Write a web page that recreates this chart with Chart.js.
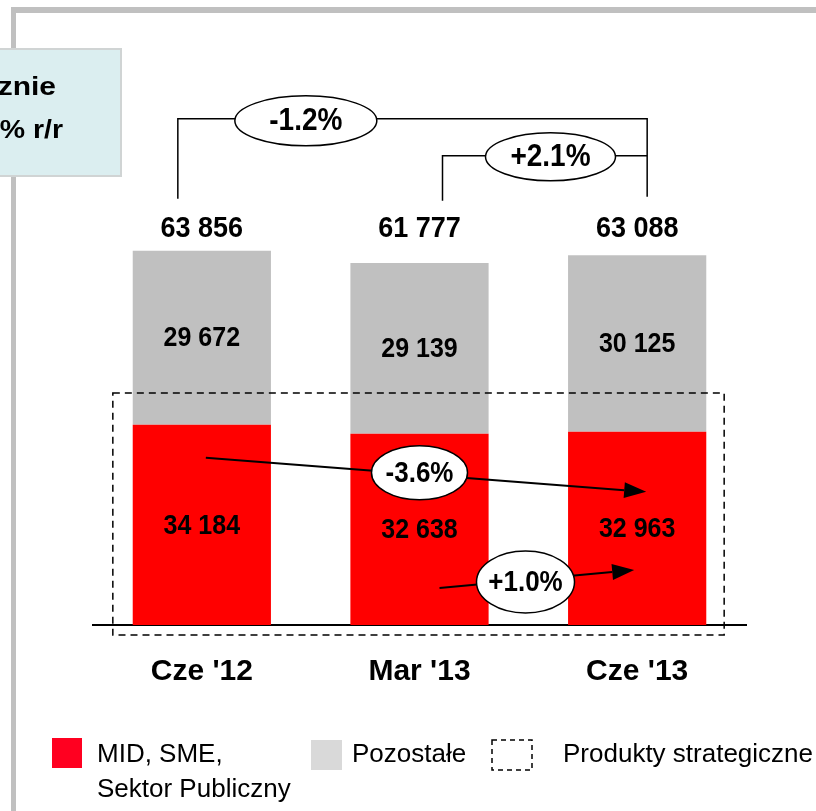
<!DOCTYPE html>
<html lang="pl">
<head>
<meta charset="utf-8">
<title>Produkty strategiczne</title>
<script src="https://cdn.jsdelivr.net/npm/chart.js@4.4.1/dist/chart.umd.min.js"></script>
<style>
  html, body { margin: 0; padding: 0; background: #fff; }
  #wrap { width: 816px; height: 811px; }
</style>
</head>
<body>
<div id="wrap"><canvas id="chart" width="816" height="811"></canvas></div>
<script>
// ---- dane z wykresu ----
const categories = ["Cze '12", "Mar '13", "Cze '13"];
const midSmeValues = [34184, 32638, 32963];
const otherValues = [29672, 29139, 30125];
const bracketLabels = ["-1.2%", "+2.1%"];   // zmiana sumy
const arrowLabels = ["-3.6%", "+1.0%"];     // zmiana MID/SME
const legendLabels = [["MID, SME,", "Sektor Publiczny"], ["Pozostałe"], ["Produkty strategiczne"]];
const boxLines = ["Łącznie", "-4% r/r"];

const RED = "#ff0000";
const GRAY = "#c0c0c0";
const FONT = "'Liberation Sans', Arial, sans-serif";

const totals = midSmeValues.map((v, i) => v + otherValues[i]);
const fmt = (n) => String(n).replace(/\B(?=(\d{3})+(?!\d))/g, " ");

// tekst z lekkim rozciągnięciem (jak na slajdzie)
function scaledText(ctx, text, x, y, sx, sy) {
  ctx.save();
  ctx.translate(x, y);
  ctx.scale(sx, sy);
  ctx.fillText(text, 0, 0);
  ctx.restore();
}

function ellipseLabel(ctx, cx, cy, rx, ry, text, size) {
  ctx.save();
  ctx.beginPath();
  ctx.ellipse(cx, cy, rx, ry, 0, 0, Math.PI * 2);
  ctx.fillStyle = "#fff";
  ctx.fill();
  ctx.lineWidth = 1.5;
  ctx.strokeStyle = "#000";
  ctx.stroke();
  ctx.fillStyle = "#000";
  ctx.font = "bold " + size + "px " + FONT;
  ctx.textAlign = "center";
  ctx.textBaseline = "middle";
  scaledText(ctx, text, cx, cy + 1, 1, 1.12);
  ctx.restore();
}

function arrow(ctx, x1, y1, x2, y2) {
  const a = Math.atan2(y2 - y1, x2 - x1);
  const len = 22, half = 8;
  ctx.save();
  ctx.strokeStyle = "#000";
  ctx.fillStyle = "#000";
  ctx.lineWidth = 2;
  ctx.beginPath();
  ctx.moveTo(x1, y1);
  ctx.lineTo(x2 - len * Math.cos(a), y2 - len * Math.sin(a));
  ctx.stroke();
  ctx.beginPath();
  ctx.moveTo(x2, y2);
  ctx.lineTo(x2 - len * Math.cos(a) + half * Math.sin(a), y2 - len * Math.sin(a) - half * Math.cos(a));
  ctx.lineTo(x2 - len * Math.cos(a) - half * Math.sin(a), y2 - len * Math.sin(a) + half * Math.cos(a));
  ctx.closePath();
  ctx.fill();
  ctx.restore();
}

function polyline(ctx, pts) {
  ctx.beginPath();
  ctx.moveTo(pts[0][0], pts[0][1]);
  pts.slice(1).forEach((p) => ctx.lineTo(p[0], p[1]));
  ctx.stroke();
}

const slideDecor = {
  id: "slideDecor",
  beforeDraw(chart) {
    const ctx = chart.ctx;
    ctx.save();
    // ramka slajdu
    ctx.fillStyle = GRAY;
    ctx.fillRect(11, 7, 805, 6);
    ctx.fillRect(11, 7, 5, 804);
    // niebieskie pole
    ctx.fillStyle = "#dbeef0";
    ctx.fillRect(0, 48, 122, 129);
    ctx.strokeStyle = "#d0d4d4";
    ctx.lineWidth = 2;
    ctx.strokeRect(-2, 49, 123, 127);
    ctx.fillStyle = "#000";
    ctx.font = "bold 25px " + FONT;
    ctx.textAlign = "right";
    ctx.textBaseline = "alphabetic";
    scaledText(ctx, boxLines[0], 56, 95, 1.2, 1);
    scaledText(ctx, boxLines[1], 63, 138, 1.14, 1);
    ctx.restore();
  },
  afterDatasetsDraw(chart) {
    const ctx = chart.ctx;
    const x = chart.scales.x, y = chart.scales.y;
    const cx = categories.map((_, i) => x.getPixelForValue(i));
    const base = y.getPixelForValue(0);
    const maxTop = y.getPixelForValue(Math.max(...totals));

    ctx.save();
    ctx.fillStyle = "#000";
    ctx.textAlign = "center";
    ctx.textBaseline = "middle";

    // etykiety segmentów
    ctx.font = "bold 25px " + FONT;
    chart.data.datasets.forEach((ds, di) => {
      chart.getDatasetMeta(di).data.forEach((bar, i) => {
        const p = bar.getProps(["x", "y", "base"], true);
        scaledText(ctx, fmt(ds.data[i]), p.x, (p.y + p.base) / 2 + 1, 1, 1.12);
      });
    });

    // sumy nad słupkami
    ctx.font = "bold 27px " + FONT;
    totals.forEach((t, i) => scaledText(ctx, fmt(t), cx[i], maxTop - 22, 1, 1.12));

    // obszar "Produkty strategiczne"
    ctx.strokeStyle = "#000";
    ctx.lineWidth = 1.5;
    ctx.setLineDash([7, 5]);
    ctx.strokeRect(cx[0] - 89, base - 232, (cx[2] + 87) - (cx[0] - 89), 242);
    ctx.setLineDash([]);

    // klamry nad słupkami
    const tY = maxTop - 132;
    const y2 = tY + 37;
    ctx.lineWidth = 1.5;
    polyline(ctx, [[cx[0] - 24, maxTop - 52], [cx[0] - 24, tY], [cx[2] + 10, tY], [cx[2] + 10, maxTop - 54]]);
    polyline(ctx, [[cx[1] + 23, maxTop - 50], [cx[1] + 23, y2], [cx[2] + 10, y2]]);
    ellipseLabel(ctx, cx[0] + 104, tY + 2, 71, 25, bracketLabels[0], 28);
    ellipseLabel(ctx, cx[1] + 131, y2 + 1, 65, 24, bracketLabels[1], 28);

    // strzałki MID/SME
    const redTop = midSmeValues.map((v) => y.getPixelForValue(v));
    arrow(ctx, cx[0] + 4, redTop[0] + 33, cx[2] + 9, redTop[2] + 60);
    ellipseLabel(ctx, cx[1], redTop[1] + 39, 48, 27, arrowLabels[0], 26);
    arrow(ctx, cx[1] + 20, base - 37, cx[2] - 3, base - 55);
    ellipseLabel(ctx, cx[1] + 106, base - 43, 49, 31, arrowLabels[1], 26);
    ctx.restore();
  },
  afterDraw(chart) {
    const ctx = chart.ctx;
    ctx.save();
    ctx.font = "26px " + FONT;
    ctx.fillStyle = "#000";
    ctx.textAlign = "left";
    ctx.textBaseline = "alphabetic";

    ctx.fillStyle = "#ff0020";
    ctx.fillRect(52, 738, 30, 30);
    ctx.fillStyle = "#000";
    ctx.fillText(legendLabels[0][0], 97, 762);
    ctx.fillText(legendLabels[0][1], 97, 797);

    ctx.fillStyle = "#d9d9d9";
    ctx.fillRect(311, 740, 31, 30);
    ctx.fillStyle = "#000";
    ctx.fillText(legendLabels[1][0], 352, 762);

    ctx.strokeStyle = "#000";
    ctx.lineWidth = 1.5;
    ctx.setLineDash([5, 4]);
    ctx.strokeRect(492, 740, 40, 30);
    ctx.setLineDash([]);
    ctx.fillText(legendLabels[2][0], 563, 762);
    ctx.restore();
  },
};

new Chart(document.getElementById("chart").getContext("2d"), {
  type: "bar",
  data: {
    labels: categories,
    datasets: [
      {
        label: "MID, SME, Sektor Publiczny",
        data: midSmeValues,
        backgroundColor: RED,
        borderWidth: 0,
        barPercentage: 0.635,
        categoryPercentage: 1,
      },
      {
        label: "Pozostałe",
        data: otherValues,
        backgroundColor: GRAY,
        borderWidth: 0,
        barPercentage: 0.635,
        categoryPercentage: 1,
      },
    ],
  },
  options: {
    responsive: false,
    animation: false,
    layout: { padding: { left: 93, right: 70, top: 39, bottom: 92 } },
    plugins: { legend: { display: false }, tooltip: { enabled: false } },
    scales: {
      x: {
        stacked: true,
        grid: { display: false, drawTicks: false },
        border: { display: true, color: "#000", width: 2 },
        ticks: { color: "#000", maxRotation: 0, padding: 29, font: { family: FONT, size: 30, weight: "bold" } },
      },
      y: { stacked: true, display: false, min: 0, max: 100000 },
    },
  },
  plugins: [slideDecor],
});
</script>
</body>
</html>
